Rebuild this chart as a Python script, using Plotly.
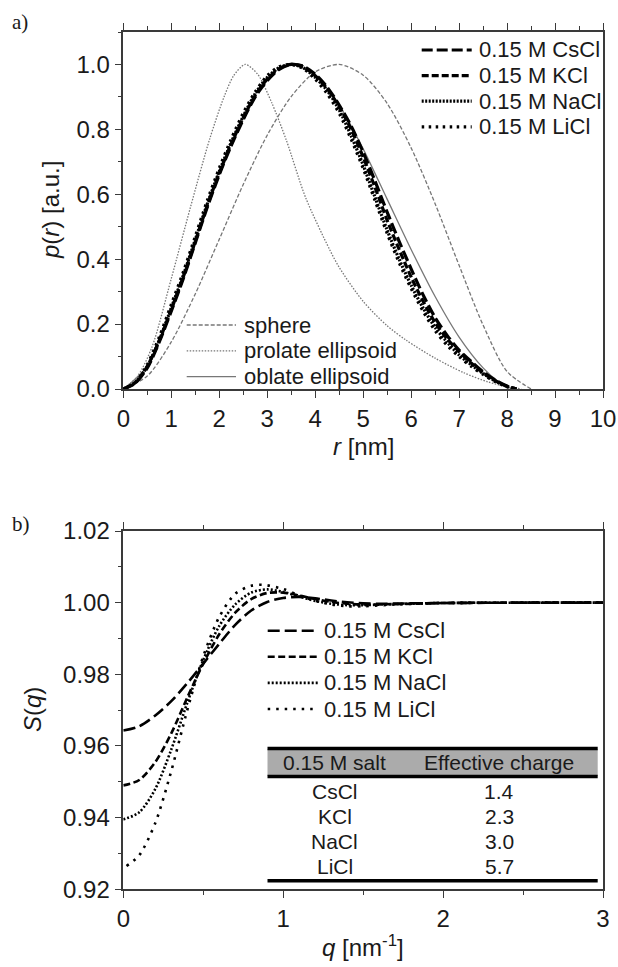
import plotly.graph_objects as go

# ---------------- Panel a data: p(r) ----------------
r_salt = [0, 0.25, 0.5, 0.75, 1.0, 1.25, 1.5, 1.75, 2.0, 2.25, 2.5, 2.75, 3.0, 3.25, 3.5, 3.75,
          4.0, 4.25, 4.5, 4.75, 5.0, 5.25, 5.5, 5.75, 6.0, 6.25, 6.5, 6.75, 7.0, 7.25, 7.5, 7.75, 8.0, 8.2]
p_cscl = [0, 0.018, 0.065, 0.145, 0.24, 0.34, 0.45, 0.56, 0.66, 0.75, 0.83, 0.90, 0.95, 0.985, 1.0, 0.995,
          0.97, 0.93, 0.875, 0.81, 0.73, 0.64, 0.545, 0.455, 0.37, 0.29, 0.22, 0.165, 0.12, 0.085, 0.053, 0.028, 0.009, 0]
p_kcl = [0, 0.02, 0.07, 0.15, 0.245, 0.345, 0.455, 0.565, 0.665, 0.755, 0.835, 0.905, 0.955, 0.987, 1.0, 0.993,
         0.965, 0.925, 0.87, 0.80, 0.715, 0.62, 0.52, 0.43, 0.345, 0.27, 0.205, 0.155, 0.115, 0.08, 0.05, 0.026, 0.008, 0]
p_nacl = [0, 0.02, 0.07, 0.15, 0.25, 0.35, 0.46, 0.57, 0.67, 0.76, 0.84, 0.91, 0.96, 0.99, 1.0, 0.99,
          0.96, 0.92, 0.86, 0.78, 0.69, 0.59, 0.49, 0.40, 0.32, 0.25, 0.19, 0.145, 0.105, 0.075, 0.048, 0.025, 0.008, 0]
p_licl = [0, 0.02, 0.075, 0.16, 0.26, 0.36, 0.47, 0.58, 0.68, 0.77, 0.85, 0.915, 0.965, 0.993, 1.0, 0.988,
          0.955, 0.91, 0.85, 0.77, 0.68, 0.58, 0.48, 0.39, 0.31, 0.24, 0.18, 0.135, 0.10, 0.07, 0.045, 0.023, 0.007, 0]

r_sphere = [0, 0.5, 1, 1.5, 2, 2.5, 3, 3.5, 4, 4.5, 5, 5.5, 6, 6.5, 7, 7.5, 8, 8.5]
p_sphere = [0, 0.04, 0.145, 0.293, 0.461, 0.63, 0.782, 0.901, 0.977, 1.0, 0.967, 0.88, 0.743, 0.571, 0.381, 0.197, 0.054, 0]

r_prolate = [0, 0.3, 0.6, 1.0, 1.4, 1.8, 2.1, 2.3, 2.54, 2.8, 3.1, 3.4, 3.8, 4.3, 4.5, 5.0, 5.5, 5.9, 6.5, 7.1, 7.6, 8.0, 8.3]
p_prolate = [0, 0.04, 0.13, 0.34, 0.56, 0.77, 0.90, 0.965, 1.0, 0.97, 0.88, 0.766, 0.59, 0.43, 0.375, 0.27, 0.195, 0.15,
             0.095, 0.05, 0.022, 0.007, 0]

r_oblate = [0, 0.5, 1.0, 1.5, 2.0, 2.5, 3.0, 3.5, 4.0, 4.5, 5.0, 5.5, 6.0, 6.5, 7.0, 7.5, 7.8, 8.1]
p_oblate = [0, 0.07, 0.25, 0.46, 0.67, 0.84, 0.96, 1.0, 0.965, 0.875, 0.74, 0.585, 0.43, 0.285, 0.16, 0.065, 0.025, 0]

# ---------------- Panel b data: S(q) ----------------
q_cscl = [0, 0.1, 0.2, 0.3, 0.4, 0.5, 0.6, 0.7, 0.8, 0.9, 1.0, 1.1, 1.2, 1.3, 1.4, 1.5, 1.6, 1.8, 2.0, 2.5, 3.0]
s_cscl = [0.9643, 0.9655, 0.9685, 0.9725, 0.9775, 0.9830, 0.9885, 0.9938, 0.9978, 1.0002, 1.0013, 1.0016, 1.0012,
          1.0006, 1.0001, 0.9998, 0.9997, 0.9998, 0.9999, 1.0, 1.0]
q_kcl = [0, 0.1, 0.2, 0.3, 0.4, 0.5, 0.6, 0.7, 0.8, 0.9, 1.0, 1.1, 1.2, 1.3, 1.4, 1.5, 1.7, 2.0, 2.5, 3.0]
s_kcl = [0.949, 0.9505, 0.9555, 0.9635, 0.9735, 0.9830, 0.9912, 0.9972, 1.0010, 1.0027, 1.0028, 1.0020, 1.0010,
         1.0002, 0.9997, 0.9995, 0.9996, 0.9999, 1.0, 1.0]
q_nacl = [0, 0.1, 0.2, 0.3, 0.4, 0.5, 0.6, 0.7, 0.8, 0.9, 1.0, 1.1, 1.2, 1.3, 1.4, 1.5, 1.7, 2.0, 3.0]
s_nacl = [0.9395, 0.9415, 0.9480, 0.9590, 0.9720, 0.9840, 0.9935, 0.9995, 1.0028, 1.0037, 1.0030, 1.0017, 1.0005,
          0.9997, 0.9993, 0.9993, 0.9996, 0.9999, 1.0]
q_licl = [0.02, 0.1, 0.2, 0.3, 0.4, 0.5, 0.6, 0.7, 0.8, 0.87, 1.0, 1.1, 1.2, 1.3, 1.4, 1.5, 1.7, 2.0, 3.0]
s_licl = [0.9265, 0.9295, 0.9385, 0.9530, 0.9700, 0.9850, 0.9960, 1.0025, 1.0047, 1.0050, 1.0038, 1.0020, 1.0005,
          0.9995, 0.9990, 0.9990, 0.9995, 0.9999, 1.0]

# ---------------- Table / legend text ----------------
salt_names = ["0.15 M CsCl", "0.15 M KCl", "0.15 M NaCl", "0.15 M LiCl"]
model_names = ["sphere", "prolate ellipsoid", "oblate ellipsoid"]
table_header = ["0.15 M salt", "Effective charge"]
table_salts = ["CsCl", "KCl", "NaCl", "LiCl"]
table_charges = ["1.4", "2.3", "3.0", "5.7"]

W, H = 618, 967
FONT = "Arial, Liberation Sans, sans-serif"
AX = "#3a3a3a"
GRAY = "#777777"


def px(x):
    return x / W


def py(y):
    return 1 - y / H


salt_styles = [
    dict(color="black", width=3.2, dash="11px,4px"),
    dict(color="black", width=3.2, dash="7px,3px"),
    dict(color="black", width=3.2, dash="2px,1.5px"),
    dict(color="black", width=3.2, dash="2.5px,4.5px"),
]
model_styles = [
    dict(color=GRAY, width=1.3, dash="4px,2px"),
    dict(color=GRAY, width=1.3, dash="1.5px,1.5px"),
    dict(color=GRAY, width=1.3, dash="solid"),
]
salt_styles_b = [
    dict(color="black", width=2.6, dash="12px,5px"),
    dict(color="black", width=2.6, dash="7px,3.5px"),
    dict(color="black", width=2.6, dash="2px,2px"),
    dict(color="black", width=2.6, dash="2.5px,6px"),
]

fig = go.Figure()

# panel a curves
for rr, pp, st in [(r_sphere, p_sphere, model_styles[0]), (r_prolate, p_prolate, model_styles[1]),
                   (r_oblate, p_oblate, model_styles[2])]:
    fig.add_trace(go.Scatter(x=rr, y=pp, mode="lines", line=dict(shape="spline", smoothing=0.8, **st),
                             xaxis="x", yaxis="y", showlegend=False, hoverinfo="skip"))
for pp, st in zip([p_cscl, p_kcl, p_nacl, p_licl], salt_styles):
    fig.add_trace(go.Scatter(x=r_salt, y=pp, mode="lines", line=dict(shape="spline", smoothing=0.8, **st),
                             xaxis="x", yaxis="y", showlegend=False, hoverinfo="skip"))

# panel b curves
for qq, ss, st in zip([q_cscl, q_kcl, q_nacl, q_licl], [s_cscl, s_kcl, s_nacl, s_licl], salt_styles_b):
    fig.add_trace(go.Scatter(x=qq, y=ss, mode="lines", line=dict(shape="spline", smoothing=0.8, **st),
                             xaxis="x2", yaxis="y2", showlegend=False, hoverinfo="skip"))

axis_common = dict(showline=True, linecolor=AX, linewidth=1.5, ticks="outside", ticklen=7, tickwidth=1.3,
                   tickcolor=AX, showgrid=False, zeroline=False, automargin=False,
                   tickfont=dict(family=FONT, size=24, color="#1a1a1a"))
minor_common = dict(ticks="outside", ticklen=4, tickwidth=1.2, tickcolor=AX, showgrid=False)

dom_x = [px(123.3), px(603)]
fig.update_layout(
    width=W, height=H, margin=dict(l=0, r=0, t=0, b=0, autoexpand=False),
    paper_bgcolor="white", plot_bgcolor="white",
    xaxis=dict(domain=dom_x, range=[0, 10], dtick=1, tick0=0, mirror="ticks", anchor="y",
               minor=dict(dtick=0.5, **minor_common), **axis_common),
    yaxis=dict(domain=[py(389), py(32)], range=[0, 1.1], dtick=0.2, tick0=0, tickformat=".1f", mirror=True,
               anchor="x", minor=dict(dtick=0.1, **minor_common), **axis_common),
    xaxis2=dict(domain=dom_x, range=[0, 3], dtick=1, tick0=0, mirror="ticks", anchor="y2",
                minor=dict(dtick=0.5, **minor_common), **axis_common),
    yaxis2=dict(domain=[py(889.3), py(531)], range=[0.92, 1.02], dtick=0.02, tick0=0.92, tickformat=".2f",
                mirror=True, anchor="x2", minor=dict(dtick=0.01, **minor_common), **axis_common),
)

shapes = []
annotations = []


def text(x, y, s, size=22, xanchor="left", angle=0, family=FONT):
    annotations.append(dict(x=px(x), y=py(y), xref="paper", yref="paper", text=s, showarrow=False,
                            xanchor=xanchor, yanchor="middle", textangle=angle,
                            font=dict(family=family, size=size, color="#1a1a1a")))


def sample(x0, x1, y, st):
    shapes.append(dict(type="line", xref="paper", yref="paper", x0=px(x0), x1=px(x1), y0=py(y), y1=py(y),
                       line=dict(color=st["color"], width=st["width"], dash=st["dash"])))


# panel labels
text(10, 22, "a)", size=21, family="Liberation Serif, Times New Roman, serif")
text(10, 524, "b)", size=21, family="Liberation Serif, Times New Roman, serif")

# axis titles
text(50, 210, "<i>p</i>(<i>r</i>) [a.u.]", size=24, xanchor="center", angle=-90)
text(363, 447, "<i>r</i> [nm]", size=24, xanchor="center")
text(32, 710, "<i>S</i>(<i>q</i>)", size=24, xanchor="center", angle=-90)
text(363, 946, "<i>q</i> [nm<sup>-1</sup>]", size=24, xanchor="center")

# legend panel a (salts)
for i, (name, st) in enumerate(zip(salt_names, salt_styles)):
    y = 50 + i * 25.6
    sample(421.7, 471.7, y, st)
    text(476.7, y, name, size=22)

# legend panel a (models)
for i, (name, st) in enumerate(zip(model_names, model_styles)):
    y = 325 + i * 25.8
    sample(186.7, 236, y, st)
    text(241.7, y, name, size=22)

# legend panel b
for i, (name, st) in enumerate(zip(salt_names, salt_styles_b)):
    y = 630.7 + i * 26.1
    sample(267.7, 318, y, st)
    text(321.7, y, name, size=22)

# table in panel b
tx0, tx1 = 267.5, 597.7
shapes.append(dict(type="rect", xref="paper", yref="paper", x0=px(tx0), x1=px(tx1), y0=py(776), y1=py(749),
                   fillcolor="#ababab", line=dict(width=0)))
for yy in [748.5, 776.5, 880.7]:
    shapes.append(dict(type="line", xref="paper", yref="paper", x0=px(tx0), x1=px(tx1), y0=py(yy), y1=py(yy),
                       line=dict(color="black", width=3.5)))
col_x = [334.5, 499]
for cx, h in zip(col_x, table_header):
    text(cx, 762.5, h, size=21, xanchor="center")
for i, (s, c) in enumerate(zip(table_salts, table_charges)):
    y = 791 + i * 25.2
    text(col_x[0], y, s, size=21, xanchor="center")
    text(col_x[1], y, c, size=21, xanchor="center")

fig.update_layout(shapes=shapes, annotations=annotations)
fig.write_html("out.html", config={"displayModeBar": False},
               post_script="document.body.style.margin='0';document.body.style.overflow='hidden';")
